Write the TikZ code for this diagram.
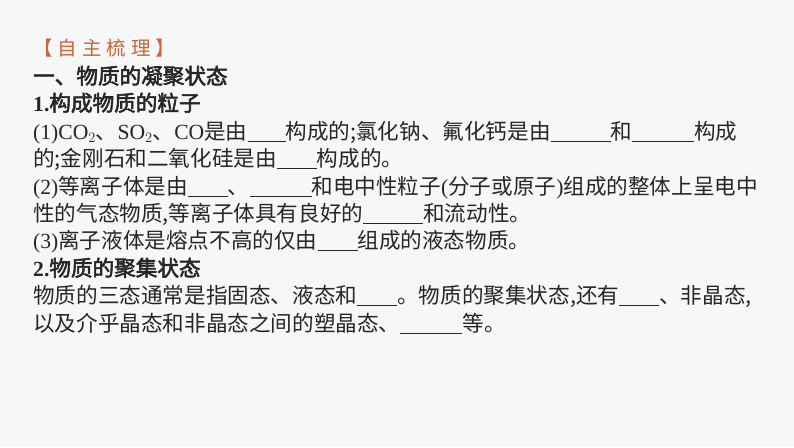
\documentclass[tikz,border=0pt]{standalone}
\usepackage{fontspec}
\setmainfont{Noto Sans CJK SC}
\newfontfamily\lat{Liberation Serif}
\newfontfamily\cjkb{Noto Sans CJK SC}[FakeBold=2.5]
\newfontfamily\latb{Liberation Serif Bold}
\definecolor{bg}{HTML}{F5F8F6}
\definecolor{ttl}{HTML}{CC6238}
\newcommand{\blk}[1]{\rule[-3pt]{#1pt}{0.8pt}}
\newcommand{\tsp}{\hspace{5pt}}
\begin{document}
\begin{tikzpicture}[x=1pt,y=-1pt,
  ln/.style={anchor=base west,inner sep=0pt,font=\fontsize{21.6}{21.6}\selectfont,text=black!85}]
\fill[bg] (0,0) rectangle (794,447);
\useasboundingbox (0,0) rectangle (794,447);
\node[ln,text=ttl,font=\fontsize{19.5}{19.5}\selectfont] (t) at (33,55) {【\tsp 自\tsp 主\tsp 梳\tsp 理\tsp 】};
\node[ln] (h1) at (33,84) {\cjkb 一、物质的凝聚状态};
\node[ln] (h2) at (33,111) {{\latb 1.}\cjkb 构成物质的粒子};
\node[ln] (l1) at (33,139) {{\lat (1)CO$_2$}、{\lat SO$_2$}、{\lat CO}是由\blk{38}构成的;氯化钠、氟化钙是由\blk{60}和\blk{62}构成};
\node[ln] (l2) at (33,166) {的;金刚石和二氧化硅是由\blk{40}构成的。};
\node[ln] (l3) at (33,194) {{\lat (2)}等离子体是由\blk{40}、\blk{62}和电中性粒子{\lat (}分子或原子{\lat )}组成的整体上呈电中};
\node[ln] (l4) at (33,221) {性的气态物质,等离子体具有良好的\blk{60}和流动性。};
\node[ln] (l5) at (33,248) {{\lat (3)}离子液体是熔点不高的仅由\blk{40}组成的液态物质。};
\node[ln] (h3) at (33,276) {{\latb 2.}\cjkb 物质的聚集状态};
\node[ln] (l6) at (33,303) {物质的三态通常是指固态、液态和\blk{40}。物质的聚集状态,还有\blk{40}、非晶态,};
\node[ln] (l7) at (33,331) {以及介乎晶态和非晶态之间的塑晶态、\blk{62}等。};
\end{tikzpicture}
\end{document}
